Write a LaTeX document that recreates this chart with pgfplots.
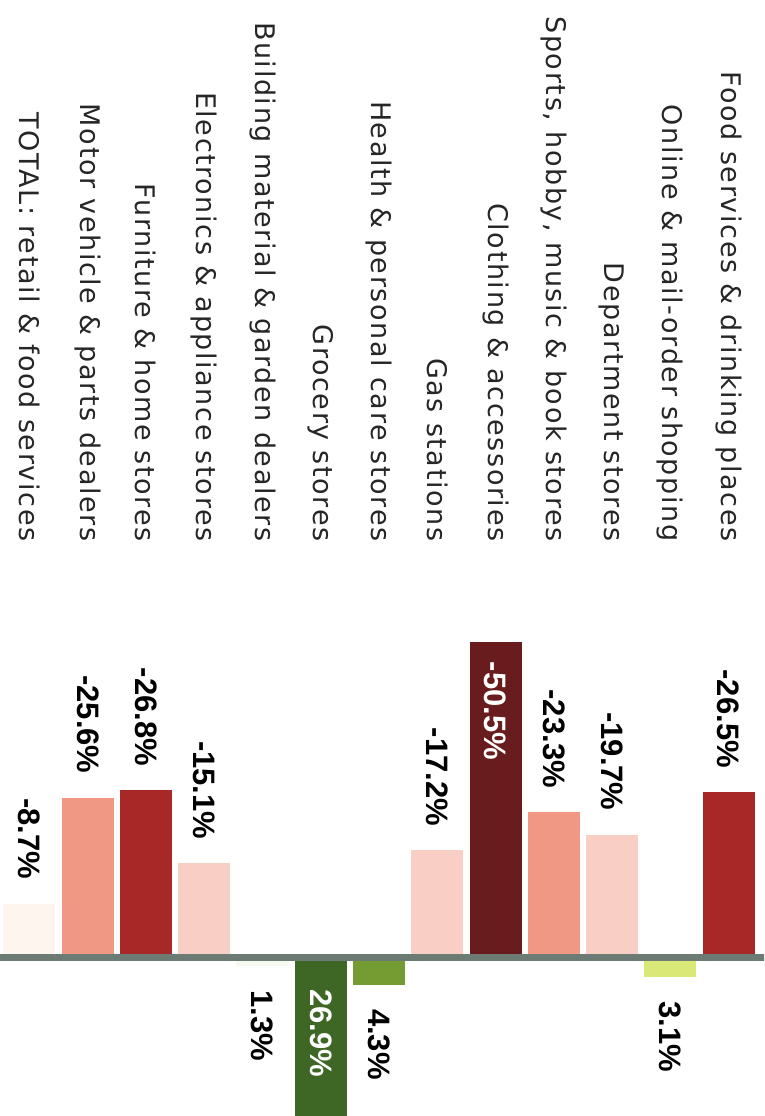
\documentclass[border=0pt]{standalone}
\usepackage{pgfplots}
\pgfplotsset{compat=1.18}
\usepackage{fontspec}
\setmainfont{Liberation Sans}
\newfontfamily\catfont[LetterSpace=6]{DejaVu Sans}
\definecolor{darkred}{RGB}{168,40,40}
\definecolor{maroon}{RGB}{105,28,30}
\definecolor{salmon}{RGB}{240,152,132}
\definecolor{lightpink}{RGB}{249,206,196}
\definecolor{palecream}{RGB}{253,245,238}
\definecolor{yellowgreen}{RGB}{218,232,120}
\definecolor{midgreen}{RGB}{116,156,50}
\definecolor{darkgreen}{RGB}{62,102,36}
\definecolor{palegreen}{RGB}{246,249,238}
\definecolor{zeroline}{RGB}{108,124,116}
\tikzset{valnode/.style={font=\fontsize{31}{34}\selectfont\bfseries, rotate=-90, inner ysep=0pt, text=black}}
\pgfplotsset{
  negout/.style={nodes near coords style={valnode, anchor=east, inner xsep=24pt}},
  posout/.style={nodes near coords style={valnode, anchor=west, inner xsep=24pt}},
  barsty/.style={ybar, bar shift=0pt, bar width=52pt, draw=none},
}
\begin{document}
\begin{tikzpicture}
\begin{axis}[
  scale only axis, width=764pt, height=1116pt,
  x dir=reverse, y dir=reverse,
  xmin=-0.609, xmax=12.506, ymin=-153.0, ymax=25.24,
  axis line style={draw=none}, ticks=none,
  clip=true,
]
% bars (category index, value)
\addplot[barsty, fill=darkred, nodes near coords={-26.5\%}, negout] coordinates {(0,-26.5)};
\addplot[barsty, fill=yellowgreen, nodes near coords={3.1\%}, posout] coordinates {(1,3.1)};
\addplot[barsty, fill=lightpink, nodes near coords={-19.7\%}, negout] coordinates {(2,-19.7)};
\addplot[barsty, fill=salmon, nodes near coords={-23.3\%}, negout] coordinates {(3,-23.3)};
\addplot[barsty, fill=maroon, nodes near coords={-50.5\%},
  nodes near coords style={valnode, anchor=west, inner xsep=20pt, text=white}] coordinates {(4,-50.5)};
\addplot[barsty, fill=lightpink, nodes near coords={-17.2\%}, negout] coordinates {(5,-17.2)};
\addplot[barsty, fill=midgreen, nodes near coords={4.3\%}, posout] coordinates {(6,4.3)};
\addplot[barsty, fill=darkgreen] coordinates {(7,26.9)};
\addplot[barsty, fill=palegreen, nodes near coords={1.3\%}, posout] coordinates {(8,1.3)};
\addplot[barsty, fill=lightpink, nodes near coords={-15.1\%}, negout] coordinates {(9,-15.1)};
\addplot[barsty, fill=darkred, nodes near coords={-26.8\%}, negout] coordinates {(10,-26.8)};
\addplot[barsty, fill=salmon, nodes near coords={-25.6\%}, negout] coordinates {(11,-25.6)};
\addplot[barsty, fill=palecream, nodes near coords={-8.7\%}, negout] coordinates {(12,-8.7)};
% zero line
\addplot[line width=7pt, color=zeroline, no marks] coordinates {(-0.7,0) (12.6,0)};
% label inside the clipped grocery bar
\addplot[draw=none, no marks, nodes near coords={26.9\%},
  nodes near coords style={valnode, anchor=west, inner xsep=31pt, text=white}] coordinates {(7,0)};
% category labels
\addplot[draw=none, no marks, point meta=explicit symbolic, nodes near coords,
  nodes near coords style={font=\catfont\fontsize{27}{30}\selectfont, rotate=-90, anchor=east, inner sep=0pt, text=black!85}]
  table[meta=label, col sep=comma] {
x,y,label
0,-66.5,Food services \& drinking places
1,-66.5,Online \& mail-order shopping
2,-66.5,Department stores
3,-66.5,{Sports, hobby, music \& book stores}
4,-66.5,Clothing \& accessories
5,-66.5,Gas stations
6,-66.5,Health \& personal care stores
7,-66.5,Grocery stores
8,-66.5,Building material \& garden dealers
9,-66.5,Electronics \& appliance stores
10,-66.5,Furniture \& home stores
11,-66.5,Motor vehicle \& parts dealers
12,-66.5,TOTAL: retail \& food services
};
\end{axis}
\end{tikzpicture}
\end{document}
